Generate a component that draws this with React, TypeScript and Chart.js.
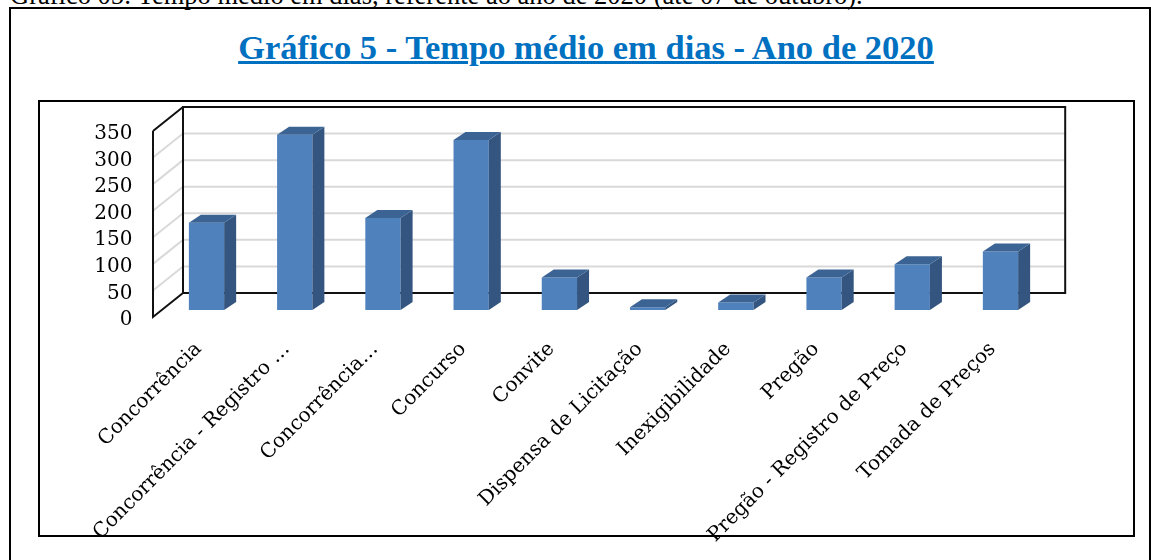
import React, { useEffect, useRef } from "react";
import { Chart, registerables } from "chart.js";

Chart.register(...registerables);

const categories: string[] = [
  "Concorrência",
  "Concorrência - Registro …",
  "Concorrência…",
  "Concurso",
  "Convite",
  "Dispensa de Licitação",
  "Inexigibilidade",
  "Pregão",
  "Pregão - Registro de Preço",
  "Tomada de Preços",
];

const values: number[] = [164, 330, 173, 320, 61, 5, 14, 61, 86, 110];

const yMin = 0;
const yMax = 350;
const yStep = 50;

const captionText =
  "Gráfico 05: Tempo médio em dias, referente ao ano de 2020 (até 07 de outubro).";
const titleText = "Gráfico 5 - Tempo médio em dias - Ano de 2020";

const FRONT_COLOR = "#4F81BD";
const SIDE_COLOR = "#34557F";
const TOP_COLOR = "#3B6494";
const GRID_COLOR = "#D9D9D9";
const FRAME_COLOR = "#111111";

// 3D offsets relative to the bar plane
const BACK = { dx: 20.6, dy: -17 };
const FRONT = { dx: -9.4, dy: 7 };
const BAR_DEPTH = { dx: 12, dy: -8 };

const depth3d = {
  id: "depth3d",
  beforeDatasetsDraw(chart: any) {
    const { ctx, chartArea: a, scales } = chart;
    const y = scales.y;
    const bx0 = a.left + BACK.dx;
    const bx1 = a.right + BACK.dx;
    const fx = a.left + FRONT.dx;
    ctx.save();
    ctx.lineCap = "butt";
    const ticks = y.ticks.map((t: any) => t.value);
    ctx.strokeStyle = GRID_COLOR;
    ctx.lineWidth = 2;
    ticks.forEach((v: number) => {
      if (v === yMin || v === yMax) return;
      const p = y.getPixelForValue(v);
      const yb = p + BACK.dy;
      const yf = p + FRONT.dy;
      ctx.beginPath();
      ctx.moveTo(bx0, yb);
      ctx.lineTo(bx1, yb);
      ctx.stroke();
      ctx.beginPath();
      ctx.moveTo(fx, yf);
      ctx.lineTo(bx0, yb);
      ctx.stroke();
    });
    const pTop = y.getPixelForValue(yMax);
    const pBot = y.getPixelForValue(yMin);
    ctx.strokeStyle = FRAME_COLOR;
    ctx.lineWidth = 2;
    ctx.beginPath();
    ctx.moveTo(bx0, pTop + BACK.dy);
    ctx.lineTo(bx1, pTop + BACK.dy);
    ctx.lineTo(bx1, pBot + BACK.dy);
    ctx.lineTo(bx0, pBot + BACK.dy);
    ctx.closePath();
    ctx.moveTo(fx, pTop + FRONT.dy);
    ctx.lineTo(fx, pBot + FRONT.dy);
    ctx.lineTo(bx0, pBot + BACK.dy);
    ctx.moveTo(fx, pTop + FRONT.dy);
    ctx.lineTo(bx0, pTop + BACK.dy);
    ctx.stroke();
    ctx.restore();
  },
  afterDatasetsDraw(chart: any) {
    const { ctx } = chart;
    const meta = chart.getDatasetMeta(0);
    ctx.save();
    meta.data.forEach((bar: any) => {
      const { x, y, base, width } = bar.getProps(["x", "y", "base", "width"], true);
      const l = x - width / 2;
      const r = x + width / 2;
      const { dx, dy } = BAR_DEPTH;
      ctx.fillStyle = SIDE_COLOR;
      ctx.beginPath();
      ctx.moveTo(r, y);
      ctx.lineTo(r + dx, y + dy);
      ctx.lineTo(r + dx, base + dy);
      ctx.lineTo(r, base);
      ctx.closePath();
      ctx.fill();
      ctx.fillStyle = TOP_COLOR;
      ctx.beginPath();
      ctx.moveTo(l, y);
      ctx.lineTo(l + dx, y + dy);
      ctx.lineTo(r + dx, y + dy);
      ctx.lineTo(r, y);
      ctx.closePath();
      ctx.fill();
    });
    ctx.restore();
  },
};

export default function App() {
  const canvasRef = useRef<HTMLCanvasElement | null>(null);

  useEffect(() => {
    if (!canvasRef.current) return;
    const chart = new Chart(canvasRef.current, {
      type: "bar",
      data: {
        labels: categories,
        datasets: [
          {
            data: values,
            backgroundColor: FRONT_COLOR,
            borderWidth: 0,
            barPercentage: 0.4,
            categoryPercentage: 1,
          },
        ],
      },
      options: {
        responsive: false,
        animation: false,
        devicePixelRatio: 1,
        layout: { padding: { left: 40, right: 106.4, top: 124, bottom: 0 } },
        plugins: {
          legend: { display: false },
          tooltip: { enabled: false },
          title: { display: false },
        },
        scales: {
          x: {
            grid: { display: false, drawTicks: false },
            border: { display: false },
            ticks: {
              autoSkip: false,
              maxRotation: 45,
              minRotation: 45,
              padding: 27.5,
              labelOffset: -8,
              color: "#000",
              font: { family: "DejaVu Serif", size: 20 },
            },
            afterFit: (s: any) => {
              s.height = 250;
            },
          },
          y: {
            min: yMin,
            max: yMax,
            grid: { display: false, drawTicks: false },
            border: { display: false },
            ticks: {
              autoSkip: false,
              stepSize: yStep,
              padding: 30,
              labelOffset: 10,
              color: "#000",
              font: { family: "DejaVu Serif", size: 20 },
            },
            afterFit: (s: any) => {
              s.width = 122.4;
            },
          },
        },
      } as any,
      plugins: [depth3d],
    });
    return () => chart.destroy();
  }, []);

  return (
    <div
      style={{
        position: "fixed",
        left: 0,
        top: 0,
        width: 1151,
        height: 560,
        overflow: "hidden",
        background: "#fff",
      }}
    >
      <div
        style={{
          position: "absolute",
          left: 10,
          top: -18,
          fontFamily: "'Liberation Serif', serif",
          fontSize: 26.5,
          lineHeight: "26.5px",
          whiteSpace: "nowrap",
          color: "#000",
        }}
      >
        {captionText}
      </div>
      <div
        style={{
          position: "absolute",
          left: 9,
          top: 7,
          width: 1142,
          height: 600,
          border: "2px solid #000",
          boxSizing: "border-box",
        }}
      />
      <div
        style={{
          position: "absolute",
          left: 86,
          width: 1000,
          top: 30.4,
          textAlign: "center",
          fontFamily: "'Liberation Serif', serif",
          fontWeight: "bold",
          fontSize: 34.5,
          lineHeight: "34.5px",
          color: "#0070C0",
          textDecoration: "underline",
          whiteSpace: "nowrap",
        }}
      >
        {titleText}
      </div>
      <div
        style={{
          position: "absolute",
          left: 38,
          top: 100,
          width: 1097,
          height: 437,
          border: "2px solid #000",
          boxSizing: "border-box",
        }}
      />
      <canvas
        ref={canvasRef}
        width={1151}
        height={560}
        style={{ position: "absolute", left: 0, top: 0, width: 1151, height: 560 }}
      />
    </div>
  );
}
